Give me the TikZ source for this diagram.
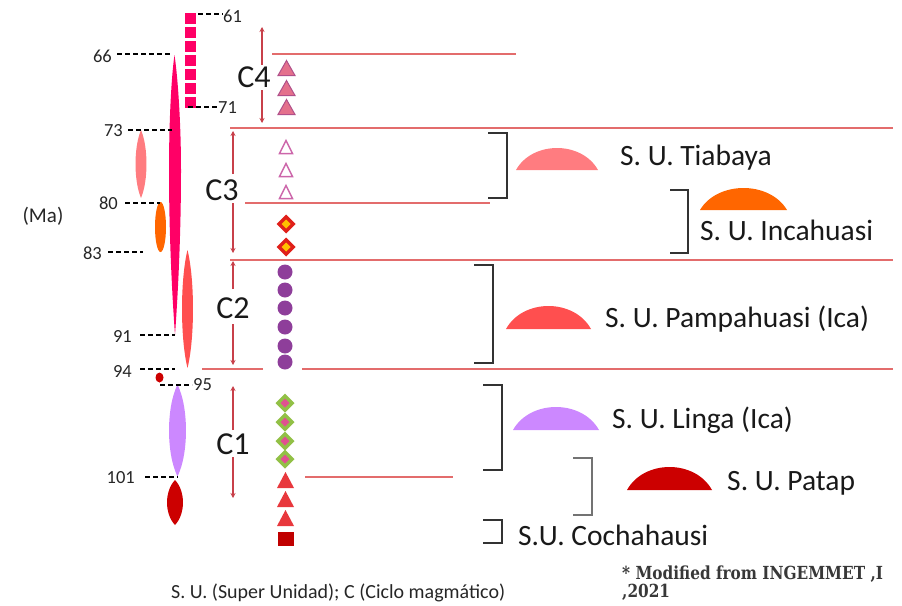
\documentclass[tikz,border=0pt]{standalone}
\usepackage{fontspec}
\usepackage{graphicx}
\setmainfont{Carlito}
\newfontfamily\slabfont{DejaVu Serif}
\usetikzlibrary{arrows.meta}
\definecolor{mag}{HTML}{FF0066}
\definecolor{tiab}{HTML}{FF7C80}
\definecolor{inca}{HTML}{FF6600}
\definecolor{pamp}{HTML}{FF4F4F}
\definecolor{linga}{HTML}{CC88FF}
\definecolor{patap}{HTML}{CC0000}
\definecolor{hline}{HTML}{E36C6C}
\definecolor{arrc}{HTML}{C8404A}
\definecolor{cfourf}{HTML}{E4708C}
\definecolor{cfourd}{HTML}{B0508A}
\definecolor{cthree}{HTML}{CC66AA}
\definecolor{dred}{HTML}{E0201A}
\definecolor{dyel}{HTML}{FFC000}
\definecolor{purp}{HTML}{8E3E9A}
\definecolor{grn}{HTML}{92C046}
\definecolor{pnk}{HTML}{E05090}
\definecolor{rtri}{HTML}{E8383D}
\definecolor{sq}{HTML}{C00000}
\newcommand{\myfs}[1]{\fontsize{#1}{#1}\selectfont}
\newcommand{\mylens}[5]{\fill[#1] (#2,#3-#5) .. controls (#2+#4*1.33,#3-#5*0.5) and (#2+#4*1.33,#3+#5*0.5) .. (#2,#3+#5) .. controls (#2-#4*1.33,#3+#5*0.5) and (#2-#4*1.33,#3-#5*0.5) .. cycle;}
\newcommand{\mydome}[5]{\fill[#1] (#2,#5) .. controls ({#2+0.2*(#3-#2)},{#5-(#5-#4)/0.75}) and ({#3-0.2*(#3-#2)},{#5-(#5-#4)/0.75}) .. (#3,#5) -- cycle;}
\tikzset{
  tick/.style={black, line width=1.3pt, dash pattern=on 5pt off 3pt},
  num/.style={inner sep=0, font=\myfs{18.5}, text=black!85},
  big/.style={inner sep=0, font=\myfs{29.5}, text=black!90},
  cyc/.style={inner sep=0, font=\myfs{32}, text=black!90},
  hl/.style={hline, line width=1.3pt},
  arr/.style={arrc, line width=1.1pt, -{Stealth[length=5pt,width=5pt]}},
  brk/.style={black!80, line width=1.3pt},
  src/.style={inner sep=0, anchor=base west, align=left, font=\slabfont\bfseries\fontsize{18}{16}\selectfont, text=black!78},
}
\begin{document}
\begin{tikzpicture}[x=1pt,y=-1pt]
\useasboundingbox (0,0) rectangle (902,605);

% horizontal lines
\draw[hl] (272,54) -- (516,54);
\draw[hl] (230,128) -- (893,128);
\draw[hl] (245,203) -- (490,203);
\draw[hl] (230,260) -- (893,260);
\draw[hl] (202,369) -- (263,369);
\draw[hl] (302,369) -- (893,369);
\draw[hl] (305,477) -- (453,477);

% magenta squares
\foreach \k in {0,...,6} \fill[mag] (185,13+14*\k) rectangle (196,23.5+14*\k);

% shapes on the left
\fill[mag] (174.5,55) .. controls (177.5,75) and (181,120) .. (181,170) .. controls (181,240) and (177.5,300) .. (175,335) .. controls (172.5,300) and (169,240) .. (169,170) .. controls (169,120) and (171.5,75) .. cycle;
\mylens{tiab}{141}{164}{5.5}{34}
\fill[inca] (160.5,227) ellipse (5.5 and 25);
\mylens{pamp}{187.5}{309}{5.5}{59}
\fill[patap] (159.5,377.5) ellipse (4 and 5);
\mylens{linga}{177.5}{430.5}{8.5}{46}
\mylens{patap}{175}{502.5}{8}{22.5}

% ticks and numbers
\draw[tick] (198,14) -- (223,14);
\node[num, anchor=west] (n61) at (223,16) {61};
\draw[tick] (117,54) -- (170,54);
\node[num, anchor=east] (n66) at (112,56) {66};
\draw[tick] (188,107) -- (218,107);
\node[num, anchor=west] (n71) at (218,108) {71};
\draw[tick] (128,130) -- (172,130);
\node[num, anchor=east] (n73) at (123,131) {73};
\draw[tick] (125,203) -- (160,203);
\node[num, anchor=east] (n80) at (118,203) {80};
\draw[tick] (108,252) -- (143,252);
\node[num, anchor=east] (n83) at (102,253) {83};
\draw[tick] (140,335) -- (175,335);
\node[num, anchor=east] (n91) at (132,336) {91};
\draw[tick] (140,369) -- (175,369);
\node[num, anchor=east] (n94) at (132,371) {94};
\draw[tick] (160,385) -- (192,385);
\node[num, anchor=west] (n95) at (193,385) {95};
\draw[tick] (145,477) -- (178,477);
\node[num, anchor=east] (n101) at (135,478) {101};
\node[inner sep=0, font=\myfs{21}, text=black!85] (ma) at (43,216) {(Ma)};

% cycle labels and arrows
\node[cyc] (c4) at (254,77) {C4};
\coordinate (c4t) at (262,27); \coordinate (c4a) at (262,65);
\coordinate (c4b) at (262,90); \coordinate (c4d) at (262,123);
\draw[arr] (c4a) -- (c4t); \draw[arr] (c4b) -- (c4d);
\node[cyc] (c3) at (222,190) {C3};
\coordinate (c3t) at (233,131); \coordinate (c3a) at (233,174);
\coordinate (c3b) at (233,203); \coordinate (c3d) at (233,253);
\draw[arr] (c3a) -- (c3t); \draw[arr] (c3b) -- (c3d);
\node[cyc] (c2) at (233,308) {C2};
\coordinate (c2t) at (233,261); \coordinate (c2a) at (233,289);
\coordinate (c2b) at (233,324); \coordinate (c2d) at (233,365);
\draw[arr] (c2a) -- (c2t); \draw[arr] (c2b) -- (c2d);
\node[cyc] (c1) at (233,444) {C1};
\coordinate (c1t) at (233,386); \coordinate (c1a) at (233,430);
\coordinate (c1b) at (233,457); \coordinate (c1d) at (233,498);
\draw[arr] (c1a) -- (c1t); \draw[arr] (c1b) -- (c1d);

% markers
\foreach \y in {68,88,107} \filldraw[fill=cfourf, draw=cfourd, line width=1pt] (278,\y+7.5) -- (286.5,\y-7.5) -- (295,\y+7.5) -- cycle;
\foreach \y in {147,170,192} \draw[cthree, line width=1.5pt, line join=miter] (279.5,\y+6.5) -- (286,\y-6.5) -- (292.5,\y+6.5) -- cycle;
\foreach \y in {224,247} {
  \fill[dred] (286,\y-9.5) -- (295.5,\y) -- (286,\y+9.5) -- (276.5,\y) -- cycle;
  \fill[dyel] (286,\y-4.5) -- (290.5,\y) -- (286,\y+4.5) -- (281.5,\y) -- cycle;
}
\foreach \y in {272,290,308,327,346,362} \fill[purp] (285,\y) circle (7.5);
\foreach \y in {403,422,441,459} {
  \fill[grn] (285,\y-9.5) -- (294.5,\y) -- (285,\y+9.5) -- (275.5,\y) -- cycle;
  \fill[pnk] (285,\y-4.5) -- (289.5,\y) -- (285,\y+4.5) -- (280.5,\y) -- cycle;
}
\foreach \y in {480,499,518} \fill[rtri] (277,\y+8) -- (285.5,\y-8) -- (294,\y+8) -- cycle;
\fill[sq] (278,532) rectangle (294,546);

% brackets
\draw[brk] (488,133) -- (507,133) -- (507,198) -- (488,198);
\draw[brk] (670,190) -- (688,190) -- (688,253) -- (670,253);
\draw[brk] (474,265) -- (493,265) -- (493,363) -- (474,363);
\draw[brk] (483,385) -- (502,385) -- (502,470) -- (483,470);
\draw[brk, black!55] (573,458) -- (592,458) -- (592,515) -- (573,515);
\draw[brk] (483,520) -- (502,520) -- (502,543) -- (483,543);

% domes
\mydome{tiab}{516}{598}{148}{170}
\mydome{inca}{700}{787}{188}{210}
\mydome{pamp}{506}{591}{306}{329}
\mydome{linga}{513}{599}{407}{430}
\mydome{patap}{627}{712}{467}{490}

% unit labels
\node[big, anchor=base west] (tiabaya) at (620,165) {S. U. Tiabaya};
\node[big, anchor=base west] (incahuasi) at (700,240) {S. U. Incahuasi};
\node[big, anchor=base west] (pampahuasi) at (605,327) {S. U. Pampahuasi (Ica)};
\node[big, anchor=base west] (lingalbl) at (612,428) {S. U. Linga (Ica)};
\node[big, anchor=base west] (pataplbl) at (727,490) {S. U. Patap};
\node[big, anchor=base west] (cocha) at (518,545) {S.U. Cochahausi};

% notes
\node[inner sep=0, anchor=west, font=\myfs{20}, text=black!85] (legend) at (171,593) {S. U. (Super Unidad); C (Ciclo magmático)};
\node[src] (src) at (622,597) {\scalebox{0.85}[1]{* Modified from INGEMMET ,I}\\\scalebox{0.85}[1]{,2021}};
\end{tikzpicture}
\end{document}
